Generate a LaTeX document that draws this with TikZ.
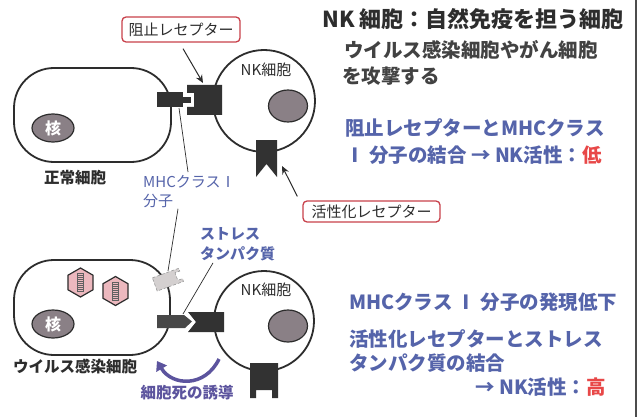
\documentclass[tikz,border=0pt]{standalone}
\usepackage{fontspec}
\setmainfont{Noto Sans CJK JP}
\usetikzlibrary{arrows.meta,shapes.geometric}

\definecolor{ink}{RGB}{45,45,45}
\definecolor{bodyblue}{RGB}{85,100,170}
\definecolor{alertred}{RGB}{232,72,72}
\definecolor{boxred}{RGB}{200,65,75}
\definecolor{deathpurple}{RGB}{92,84,158}
\definecolor{nucleus}{RGB}{138,128,134}
\definecolor{molecule}{RGB}{50,50,50}
\definecolor{stress}{RGB}{72,72,72}
\definecolor{hexpink}{RGB}{236,184,190}
\definecolor{shed}{RGB}{212,208,208}

\tikzset{
  cell/.style={draw=ink, line width=1.8pt, rounded corners=40pt},
  nkcell/.style={circle, draw=ink, line width=1.8pt, inner sep=0pt},
  nucl/.style={ellipse, draw=ink, line width=1.2pt, fill=nucleus, inner sep=0pt,
    text=white, font=\fontsize{16}{18}\selectfont\bfseries},
  lbl/.style={text=ink, font=\fontsize{15.5}{18}\selectfont\bfseries, inner sep=0pt},
  nklbl/.style={text=ink, font=\fontsize{15}{18}\selectfont, inner sep=0pt},
  bluelbl/.style={text=bodyblue, font=\fontsize{15}{19}\selectfont, inner sep=0pt, align=left},
  stresslbl/.style={text=bodyblue, font=\fontsize{15}{20}\selectfont\bfseries, inner sep=0pt, align=left},
  tagbox/.style={draw=boxred, line width=1.3pt, rounded corners=4pt, fill=white, text=ink,
    font=\fontsize{15}{18}\selectfont, inner sep=0pt},
  pointer/.style={draw=ink, line width=1pt, -{Stealth[length=8pt,width=7pt]}},
  leader/.style={draw=ink, line width=0.7pt},
  hexvirus/.style={regular polygon, regular polygon sides=6, rotate=30, minimum size=29pt,
    draw=ink, line width=1.2pt, fill=hexpink, inner sep=0pt},
  head/.style={text=ink, font=\fontsize{22}{24}\selectfont\bfseries, inner sep=0pt, anchor=west},
  sub/.style={text=ink!90, font=\fontsize{19.5}{22}\selectfont\bfseries, inner sep=0pt, anchor=west},
  body/.style={text=bodyblue, font=\fontsize{19.5}{22}\selectfont\bfseries, inner sep=0pt, anchor=west},
}

% virus particle: hexagon with a ladder-like genome inside
\newcommand{\virus}[2]{%
  \node[hexvirus] (#1) at (#2) {};
  \draw[ink!75, line width=0.6pt] ([xshift=-3pt,yshift=9pt]#1.center) rectangle ([xshift=3pt,yshift=-9pt]#1.center);
  \foreach \k in {-7,-5,...,7}
    \draw[ink!75, line width=0.5pt] ([xshift=-3pt,yshift=\k pt]#1.center) -- ([xshift=3pt,yshift=\k pt]#1.center);
}

\begin{document}
\begin{tikzpicture}[x=1pt,y=-1pt]
\useasboundingbox (0,0) rectangle (642,417);
\fill[white] (0,0) rectangle (642,417);

% ---------- upper scene: normal cell and NK cell ----------
\draw[cell] (14,68) rectangle (171,162);
\node[nucl, minimum width=42pt, minimum height=28pt] (nuc1) at (53,128) {核};
\node[lbl] (normal) at (75,178) {正常細胞};

\node[nkcell, minimum size=102pt] (nk1) at (264,101) {};
\node[nucl, minimum width=39pt, minimum height=32pt] (nknuc1) at (288,106) {};
\node[nklbl] (nklbl1) at (266,70) {NK細胞};

% MHC class I on the normal cell, docked in the inhibitory receptor
\fill[molecule] (157,92) rectangle (183,107);
\fill[molecule] (183,97) rectangle (191,103);
\fill[molecule] (187,85) -- (222,85) -- (222,115) -- (187,115) -- (187,107)
  -- (194,107) -- (194,93) -- (187,93) -- cycle;
\coordinate (mhc1) at (179,108);
\coordinate (inhib) at (203,83);

% activating receptor of the upper NK cell
\fill[molecule] (256,140) -- (277,140) -- (277,177) -- (266.5,164) -- (256,177) -- cycle;
\coordinate (act1) at (282,166);

\node[tagbox, minimum width=118pt, minimum height=25pt] (inhibtag) at (181,29.5) {阻止レセプター};
\draw[pointer] ([xshift=2pt,yshift=-6pt]inhibtag.south) -- (inhib);

\node[tagbox, minimum width=137pt, minimum height=21pt] (acttag) at (371.5,211.5) {活性化レセプター};
\draw[pointer] ([xshift=-5pt,yshift=4pt]acttag.north west) -- (act1);

\node[bluelbl, anchor=north west] (mhclbl) at (143,175) {MHCクラスⅠ\\分子};
\draw[leader] ([xshift=45pt,yshift=3pt]mhclbl.north west) -- (mhc1);

% ---------- lower scene: infected cell and NK cell ----------
\draw[cell] (14,260) rectangle (170,355);
\node[nucl, minimum width=42pt, minimum height=28pt] (nuc2) at (53,324) {核};
\node[lbl] (infected) at (75,367) {ウイルス感染細胞};
\virus{hexa}{80.5,282.5}
\virus{hexb}{115.5,291}

% MHC class I no longer presented
\begin{scope}[shift={(167,280)}, rotate=20]
  \filldraw[fill=shed, draw=gray!80, line width=0.6pt, densely dashed]
    (-13,-7) -- (15,-7) -- (15,-4) -- (10,-4) -- (10,4) -- (15,4) -- (15,7) -- (-13,7) -- cycle;
\end{scope}
\coordinate (shedtop) at (168,271);
\draw[leader] ([xshift=35pt,yshift=-1pt]mhclbl.south west) -- (shedtop);

\node[nkcell, minimum size=100pt] (nk2) at (264,321) {};
\node[nucl, minimum width=39pt, minimum height=32pt] (nknuc2) at (288,326) {};
\node[nklbl] (nklbl2) at (266,290) {NK細胞};

% stress protein bound by the activating receptor
\fill[stress] (157,315) -- (184,315) -- (192,321.5) -- (185,328) -- (157,328) -- cycle;
\fill[molecule] (188,312) -- (224,312) -- (224,332) -- (188,332) -- (196,322) -- cycle;
\coordinate (stressp) at (183,314);

\node[stresslbl, anchor=north west] (stresslbl) at (200,227) {ストレス\\タンパク質};
\draw[leader] ([xshift=13pt,yshift=-2pt]stresslbl.south west) -- (stressp);

% free activating receptor
\fill[molecule] (250,363) -- (278,363) -- (278,398) -- (272,398) -- (272,390)
  -- (256,390) -- (256,398) -- (250,398) -- cycle;

% induced cell death
\coordinate (killfrom) at (219,359);
\coordinate (killto) at (157,361);
\draw[deathpurple, line width=3.5pt, -{Triangle[length=9pt,width=12pt]}]
  (killfrom) .. controls (205,388) and (172,386) .. (killto);
\node[text=deathpurple, font=\fontsize{15.5}{18}\selectfont\bfseries, inner sep=0pt] (death) at (187,393) {細胞死の誘導};

% ---------- explanatory text ----------
\node[head] (title) at (322,19) {NK 細胞：自然免疫を担う細胞};
\node[sub] (sub1) at (344,50) {ウイルス感染細胞やがん細胞};
\node[sub] (sub2) at (342,76) {を攻撃する};

\node[body] (low1) at (345,128) {阻止レセプターとMHCクラス};
\node[body] (low2) at (345,155) {Ⅰ 分子の結合 → NK活性：\textcolor{alertred}{低}};

\node[body] (high1) at (349,302) {MHCクラス Ⅰ 分子の発現低下};
\node[body] (high2) at (349,339) {活性化レセプターとストレス};
\node[body] (high3) at (349,363) {タンパク質の結合};
\node[body, anchor=east] (high4) at (606,387) {→ NK活性：\textcolor{alertred}{高}};

% frame edge
\draw[ink!85, line width=1.4pt] (636,0) -- (636,417);
\end{tikzpicture}
\end{document}
